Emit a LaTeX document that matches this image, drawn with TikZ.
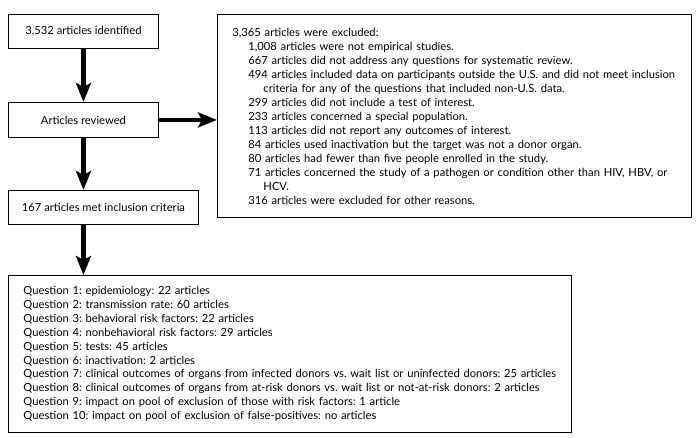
\documentclass[tikz,border=0pt]{standalone}
\usepackage{fontspec}
\setmainfont{Lato}
\usetikzlibrary{arrows.meta,calc}
\begin{document}
\frenchspacing
\hbadness=10000 \hfuzz=100pt
\begin{tikzpicture}[x=1pt,y=-1pt,
  box/.style={draw=black,line width=0.9pt,rectangle,anchor=north west,inner sep=0pt,
    font=\fontsize{11.2}{13.9}\selectfont},
  listbox/.style={box,align=left,inner xsep=15pt},
  arr/.style={line width=4.5pt,-{Stealth[length=19pt,width=15pt,inset=4pt]}}]
\useasboundingbox[fill=white] (0,0) rectangle (698,438);
\node[box,minimum width=150pt,minimum height=34pt] (b1) at (8,14) {3,532 articles identified};
\node[box,minimum width=150pt,minimum height=35pt] (b2) at (8,102) {Articles reviewed};
\node[box,minimum width=190pt,minimum height=34pt] (b3) at (8,190) {167 articles met inclusion criteria};
\node[listbox,minimum width=474pt,minimum height=203pt,text width=444pt,
  font=\fontsize{11.2}{14}\selectfont] (ex) at (217,14) {%
\mbox{3,365 articles were excluded:}\\
\mbox{\hspace*{16pt}1,008 articles were not empirical studies.}\\
\mbox{\hspace*{16pt}667 articles did not address any questions for systematic review.}\\
\mbox{\hspace*{16pt}494 articles included data on participants outside the U.S. and did not meet inclusion}\\
\mbox{\hspace*{31pt}criteria for any of the questions that included non-U.S. data.}\\
\mbox{\hspace*{16pt}299 articles did not include a test of interest.}\\
\mbox{\hspace*{16pt}233 articles concerned a special population.}\\
\mbox{\hspace*{16pt}113 articles did not report any outcomes of interest.}\\
\mbox{\hspace*{16pt}84 articles used inactivation but the target was not a donor organ.}\\
\mbox{\hspace*{16pt}80 articles had fewer than five people enrolled in the study.}\\
\mbox{\hspace*{16pt}71 articles concerned the study of a pathogen or condition other than HIV, HBV, or}\\
\mbox{\hspace*{31pt}HCV.}\\
\mbox{\hspace*{16pt}316 articles were excluded for other reasons.}};
\node[listbox,minimum width=563pt,minimum height=157pt,text width=533pt] (qs) at (8,275) {%
\mbox{Question 1: epidemiology: 22 articles}\\
\mbox{Question 2: transmission rate: 60 articles}\\
\mbox{Question 3: behavioral risk factors: 22 articles}\\
\mbox{Question 4: nonbehavioral risk factors: 29 articles}\\
\mbox{Question 5: tests: 45 articles}\\
\mbox{Question 6: inactivation: 2 articles}\\
\mbox{Question 7: clinical outcomes of organs from infected donors vs. wait list or uninfected donors: 25 articles}\\
\mbox{Question 8: clinical outcomes of organs from at-risk donors vs. wait list or not-at-risk donors: 2 articles}\\
\mbox{Question 9: impact on pool of exclusion of those with risk factors: 1 article}\\
\mbox{Question 10: impact on pool of exclusion of false-positives: no articles}};
\draw[arr] (b1.south) -- (b2.north);
\draw[arr] (b2.south) -- (b3.north -| b2.south);
\draw[arr] (b3.south -| b1.south) -- (qs.north -| b1.south);
\draw[arr] (b2.east) -- (b2.east -| ex.west);
\end{tikzpicture}
\end{document}
